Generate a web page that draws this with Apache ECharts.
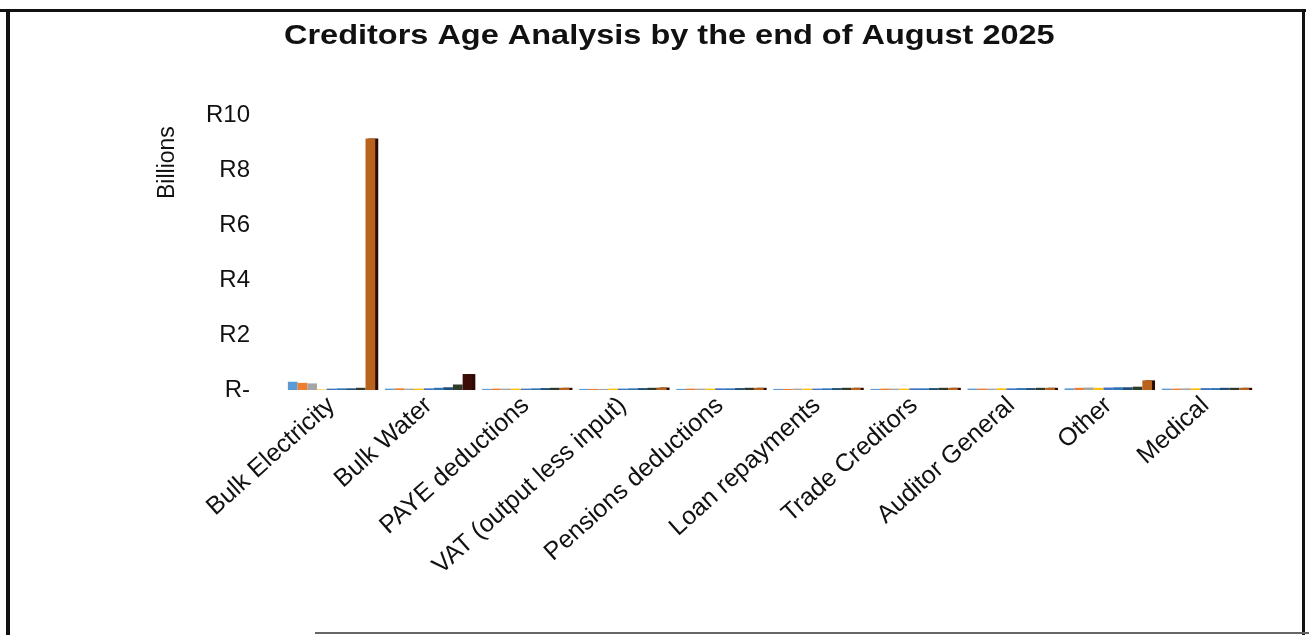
<!DOCTYPE html>
<html>
<head>
<meta charset="utf-8">
<style>
  html, body { margin: 0; padding: 0; background: #fff; }
  #chart { width: 1309px; height: 635px; }
</style>
<script src="https://cdn.jsdelivr.net/npm/echarts@6/dist/echarts.min.js"></script>
</head>
<body>
<div id="chart"></div>
<script>
// Creditor categories (x axis)
const categories = ['Bulk Electricity', 'Bulk Water', 'PAYE deductions', 'VAT (output less input)',
  'Pensions deductions', 'Loan repayments', 'Trade Creditors', 'Auditor General', 'Other', 'Medical'];

// Age buckets (one series each), values in R billions per category
const ageBuckets = ['Current', '30 Days', '60 Days', '90 Days', '120 Days', '150 Days', '180 Days', '1 Year', 'Over 1 Year'];

const current     = [0.30, 0.05, 0.04, 0.04, 0.04, 0.04, 0.04, 0.05, 0.06, 0.05];
const days30      = [0.26, 0.06, 0.05, 0.04, 0.05, 0.04, 0.05, 0.05, 0.08, 0.05];
const days60      = [0.24, 0.05, 0.05, 0.04, 0.05, 0.05, 0.05, 0.05, 0.09, 0.06];
const days90      = [0.02, 0.05, 0.05, 0.05, 0.05, 0.05, 0.05, 0.06, 0.08, 0.06];
const days120     = [0.05, 0.06, 0.05, 0.05, 0.06, 0.05, 0.06, 0.06, 0.09, 0.07];
const days150     = [0.06, 0.08, 0.06, 0.06, 0.06, 0.06, 0.06, 0.07, 0.10, 0.07];
const days180     = [0.06, 0.10, 0.07, 0.07, 0.07, 0.07, 0.07, 0.07, 0.10, 0.08];
const year1       = [0.08, 0.20, 0.08, 0.08, 0.08, 0.08, 0.08, 0.08, 0.12, 0.08];
const overYear1   = [9.15, 0.58, 0.08, 0.09, 0.08, 0.08, 0.08, 0.08, 0.35, 0.08];

const seriesValues = [current, days30, days60, days90, days120, days150, days180, year1, overYear1];

// Y axis tick labels (R billions)
const yTicks = { 0: 'R-', 2: 'R2', 4: 'R4', 6: 'R6', 8: 'R8', 10: 'R10' };

const palette = ['#5B9BD5', '#ED7D31', '#A5A5A5', '#FFC000', '#4472C4', '#2E75B6', '#1F4E79', '#2F3B2A', '#B8621B'];
const FONT = 'Liberation Sans, Arial, sans-serif';

const series = ageBuckets.map((name, i) => ({
  name: name,
  type: 'bar',
  barGap: '0%',
  barCategoryGap: '10%',
  data: seriesValues[i].map((v, j) => {
    // the Bulk Water overdue bar is drawn in a dark brown
    if (i === 8 && j === 1) return { value: v, itemStyle: { color: '#3D0C06' } };
    return v;
  }),
  itemStyle: i === 8
    ? { color: palette[i], shadowColor: '#2a0a04', shadowOffsetX: 3, shadowBlur: 0 }
    : { color: palette[i] }
}));

const chart = echarts.init(document.getElementById('chart'), null, { renderer: 'canvas' });
chart.setOption({
  animation: false,
  backgroundColor: '#ffffff',
  grid: { left: 283, right: 55, top: 115, bottom: 245, containLabel: false },
  xAxis: {
    type: 'category',
    data: categories,
    axisLine: { show: false },
    axisTick: { show: false },
    axisLabel: {
      rotate: 42,
      interval: 0,
      margin: 12,
      fontFamily: FONT,
      fontSize: 25,
      color: '#111'
    }
  },
  yAxis: {
    type: 'value',
    min: 0,
    max: 10,
    interval: 2,
    splitLine: { show: false },
    axisLine: { show: false },
    axisTick: { show: false },
    axisLabel: {
      margin: 33,
      fontFamily: FONT,
      fontSize: 24,
      color: '#111',
      formatter: v => yTicks[v]
    }
  },
  series: series,
  graphic: [
    {
      // chart title
      type: 'text',
      x: 284,
      y: 22,
      scaleX: 1.16,
      style: { text: 'Creditors Age Analysis by the end of August 2025', font: 'bold 28px ' + FONT, fill: '#111' }
    },
    {
      // y axis unit
      type: 'text',
      x: 156,
      y: 199,
      rotation: Math.PI / 2,
      style: { text: 'Billions', font: '23px ' + FONT, fill: '#111' }
    },
    // page frame
    { type: 'rect', shape: { x: 0, y: 9, width: 1306, height: 3 }, style: { fill: '#111' } },
    { type: 'rect', shape: { x: 6, y: 9, width: 4, height: 626 }, style: { fill: '#111' } },
    { type: 'rect', shape: { x: 1302, y: 9, width: 3, height: 626 }, style: { fill: '#111' } },
    { type: 'rect', shape: { x: 315, y: 632, width: 994, height: 2 }, style: { fill: '#666' } }
  ]
});
</script>
</body>
</html>
